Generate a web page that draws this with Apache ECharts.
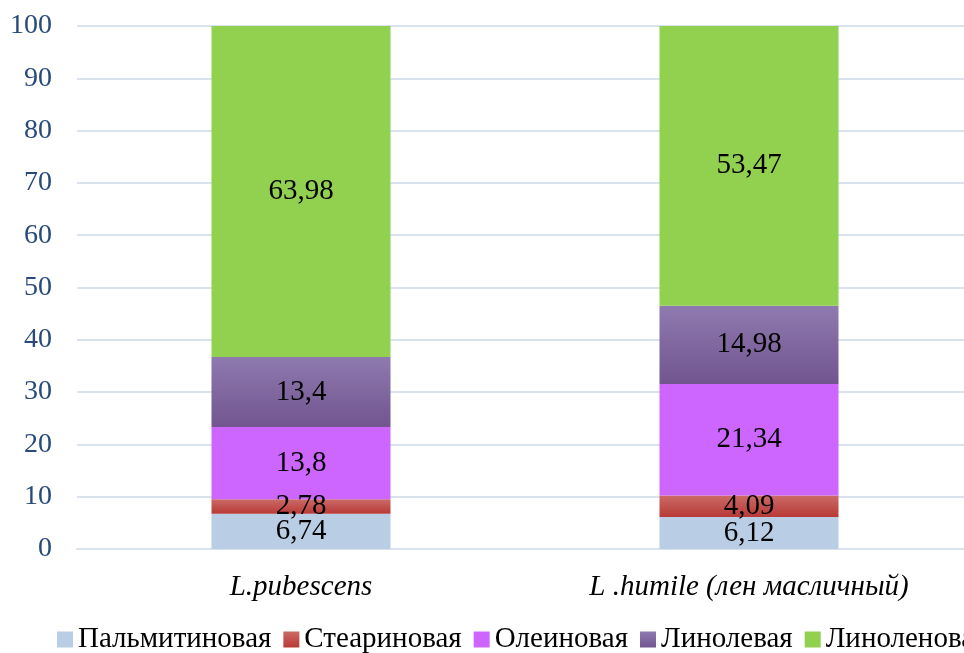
<!DOCTYPE html>
<html>
<head>
<meta charset="utf-8">
<title>Жирнокислотный состав</title>
<script src="https://cdn.jsdelivr.net/npm/echarts@6/dist/echarts.min.js"></script>
</head>
<body style="margin:0">
<div id="container" style="width:964px;height:653px"></div>
<script>
var categories = ['L.pubescens', 'L .humile (лен масличный)'];
var palmitic = [6.74, 6.12];
var stearic = [2.78, 4.09];
var oleic = [13.8, 21.34];
var linoleic = [13.4, 14.98];
var linolenic = [63.98, 53.47];
var yTicks = [0, 100, 10];

var serif = '"Liberation Serif", "DejaVu Serif", serif';

function grad(top, bottom) {
    return new echarts.graphic.LinearGradient(0, 0, 0, 1, [
        { offset: 0, color: top },
        { offset: 1, color: bottom }
    ]);
}

function fmt(p) {
    return String(p.value).replace('.', ',');
}

function makeSeries(name, data, color) {
    return {
        name: name,
        type: 'bar',
        stack: 'total',
        barWidth: 179,
        data: data,
        itemStyle: { color: color },
        label: {
            show: true,
            position: 'inside',
            formatter: fmt,
            color: '#000',
            fontFamily: serif,
            fontSize: 29
        }
    };
}

var chart = echarts.init(document.getElementById('container'));
chart.setOption({
    animation: false,
    grid: { left: 77, top: 26, width: 896, height: 523, outerBoundsMode: 'none' },
    legend: {
        left: 52,
        top: 620,
        width: 1400,
        itemWidth: 16,
        itemHeight: 16,
        itemGap: 12,
        itemStyle: { borderWidth: 0 },
        icon: 'rect',
        textStyle: { fontFamily: serif, fontSize: 29, color: '#000' }
    },
    xAxis: {
        type: 'category',
        data: categories,
        axisTick: { show: false },
        axisLine: { lineStyle: { color: '#D9E3F0', width: 2 } },
        axisLabel: {
            margin: 24,
            fontFamily: serif,
            fontStyle: 'italic',
            fontSize: 29,
            color: '#000'
        }
    },
    yAxis: {
        type: 'value',
        min: yTicks[0],
        max: yTicks[1],
        interval: yTicks[2],
        axisLine: { show: false },
        axisTick: { show: false },
        splitLine: { lineStyle: { color: '#D9E3F0', width: 2 } },
        axisLabel: {
            margin: 25,
            fontFamily: serif,
            fontSize: 28,
            color: '#284A7A'
        }
    },
    series: [
        makeSeries('Пальмитиновая', palmitic, '#B9CDE5'),
        makeSeries('Стеариновая', stearic, grad('#CB6A67', '#B83A37')),
        makeSeries('Олеиновая', oleic, '#CC66FF'),
        makeSeries('Линолевая', linoleic, grad('#8F7AAF', '#71558F')),
        makeSeries('Линоленовая', linolenic, '#92D050')
    ]
});
</script>
</body>
</html>
